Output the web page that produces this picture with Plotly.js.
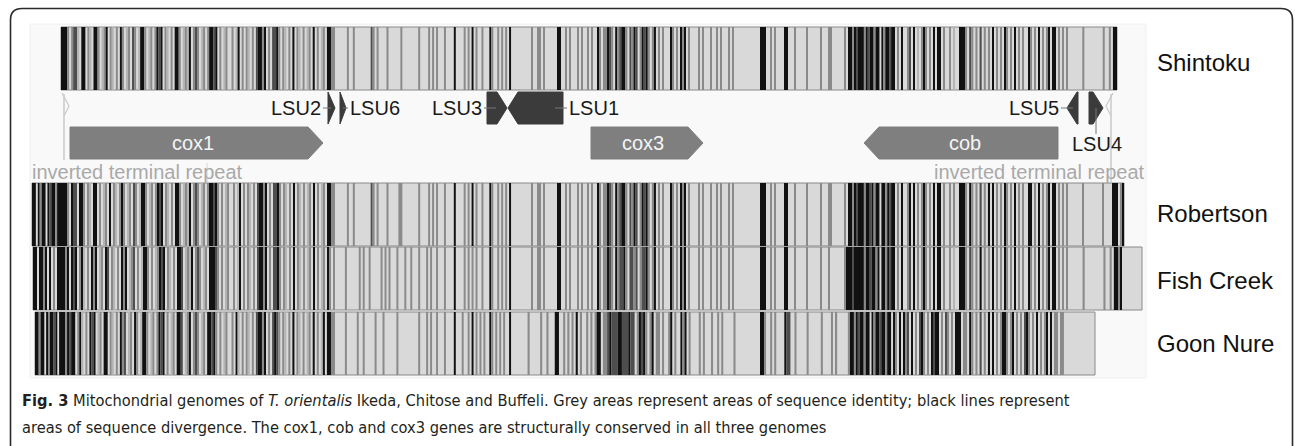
<!DOCTYPE html>
<html><head><meta charset="utf-8">
<script src="https://cdn.plot.ly/plotly-3.0.1.min.js"></script>
<style>html,body{margin:0;padding:0;background:#fff}#chart{width:1295px;height:446px}</style>
</head><body><div id="chart"></div>
<script>
// ---------- data ----------
const trackNames = ["Shintoku", "Robertson", "Fish Creek", "Goon Nure"];
const trackTop = [27, 183, 247, 312];
const trackBottom = [90, 246, 310, 375];
const trackLabelY = [62, 213, 280, 343];

// stripe codes: '.' identity (light), 'l' pale grey, 'g' grey, 'd' dark grey, 'k' divergence (black)
const shintokuEdges = [61, 333, 440, 515, 605, 660, 760, 830, 860, 895, 935, 965, 990, 1012, 1042, 1068, 1117];
const shintokuPatterns = [
  "kkkg.gddl.kk.gl.kkg.lgk.gl.g.kg.lg.dg.lkkg.lg.gkdk.gl.g.kkg.lglk.gdg.lg.gkkdk.g.lg..g.lk.g.gl.g.dkkgk.g.ddkg.gl.g.k.gl.g.lg.k.g.lg.kkg",
  "g......g..g........dg.g....g......g........g....g.g.g.",
  "..g....k....g.g.k.g..g...kg..g.g.g.k..",
  "........g..gg.g......kk..g.g...g.g..g.g..kg.g",
  "gkdg.kgdkkg.dgkd.gkdkg.gk.g",
  ".g...kg.g.kgk.g....g.g...g..g.g...g.g.............",
  "kkk..g.g....kk...g.....g......g...g",
  "g......g.kkgkdk",
  "kkgkdkkgkk.kgkkdkk",
  ".g.k..gd.k.l.gkg.g.k",
  ".kk.g..g.l..kkk",
  "g.dg.g.d.g.g",
  ".k.g.g.kg.g",
  ".k.g.g..kg.g.k.",
  "g.gk.kk.g.g.g",
  ".......g.........g..g.kk"
];

const robertsonEdges = [32, 61, 333, 440, 515, 605, 660, 760, 830, 860, 895, 935, 965, 990, 1012, 1042, 1068, 1124];
const robertsonPatterns = [
  "kk.kgkk.kdkkgkk",
  "kkkg.kdd.kkg.gl.kk.g.lg.k.gl.gkg.lg.dg.lkkg.lg.gkdk.gl.g.kkg.lglk.gdg.lg.gkkdkg.g.lg..g.lk.g.gl.g.dkkgk.g.ddkg.gl.g.k.gl.g.lg.k.g.lg.kkg",
  "g......g..g........dg.g....g.....gg........g....g.g.g.",
  "..g....k....g.g.k.g..g...kg..g.g.g.k..",
  "........g..gg.g......kk..g.g...g.g..g.g..kg.g",
  "gkdg.kgdkkg.dgkd.gkdkg.gk.g",
  ".g...kg.g.kgk.g....g.g...g..g.g...g.g.............",
  "kkk..g.g....kk...g.....g......g...g",
  "g......g.kkgkdk",
  "kkgkkdkgkk.kkgkdkk",
  ".g.k..gk.k.g.gkg.g.k",
  ".kk.g..g.g..kkk",
  "g.kg.g.d.g.k",
  ".k.g.g.kg.g",
  ".k.g.g..kk.g.k.",
  "g.gk.kk.g.g.g",
  ".......g.........g....kkk.gk"
];

const fishCreekEdges = [33, 61, 333, 440, 515, 605, 660, 760, 830, 860, 895, 935, 965, 990, 1012, 1042, 1068, 1118, 1142];
const fishCreekPatterns = [
  "kk.kkgk.k.g.kk",
  "kkgk.kdk.gkl.g.kgk.lg.kd.gl.g.kgk.lgd.g.lkkg.g.lgkdk.gl.g.kkd.lglk.gdg.lg.kkkdg.g.lg..g.lk.g.gl.g.dkkgk.g.ddkg.gl.g.k.gl.g.lg.k.g.lg.kg.",
  "g.....g......g.g..g.....g.g.g...g...g..g...g...g.g..g.",
  "..g....k....g.g.g.g..g...kg..g.g.g.k..",
  "........g..gg.g......kk..g.g...g.g..g.g..kg.g",
  "gkdg.kgddkg.ddgd.gddkg.gk.g",
  ".g...kg.g.kgk.g....g.g...g..g.g...g.g.............",
  "kkk..g.g....kk...g.....g......g...g",
  ".......gkkkdkkk",
  "kkgkkdkkgk.kkgkdkk",
  ".g.k..gd.k.g.gkg.g.k",
  ".kk.g..g.l..kkk",
  "g.dg.g.k.g.g",
  ".k.g.g.kg.g",
  ".k.g.g..kg.g.k.",
  "g.gk.kk.g.g.g",
  ".......g.........g..g.kk",
  "gk.........."
];

const goonNureEdges = [35, 61, 333, 440, 515, 605, 660, 760, 835, 850, 895, 935, 965, 990, 1012, 1040, 1062, 1095];
const goonNurePatterns = [
  "kkgkk.kgkkdk.k",
  "kkgkdkk.gkl.g.kdk.lg.kk.gl.g.kgd.lg.kg.lkkg.lg.gkdk.g.lg.kkd.lgk.gdg.lg.kkdkg.g.lg..g.kl.g.gl.g.dkkgk.g.dkdg.gl.g.k.gl.g.lg.k.g.lk.kkg",
  "g.....g.....g..g.....g...g......g..........g...g.g..g.",
  "..g....k...g..g.k.g.g.g..kg.g.g.g..k..",
  "......g.....g..g...kk..g.g.g.k.g..g.g.gkk.g",
  "gdkdddkkdddkdd.gkdkg.gk.gg",
  ".g..gk.g..kgk.g....g.g...g..g.g.....g............",
  "kkg..g.g....kdd..g.....g......g....g.",
  "g.....g",
  "kkgkdkkgkk.kgkkdkkgkk.k",
  "g.k.kgd.k.g.dkg.g.kd",
  "kk.g.dg.g.kkk.g",
  "g.kg.g.d.g.k",
  ".k.g.gkkg.g",
  "k.g.g.dkg.g.k.",
  "g.gk.k.gg.g",
  "g................"
];

const stripeColors = {l: "#b4b4b4", g: "#8a8a8a", d: "#4e4e4e", k: "#111111"};

// genes
const geneNames  = ["cox1", "cox3", "cob", "LSU2", "LSU6", "LSU3", "LSU1", "LSU5", "LSU4"];
const geneStart  = [70, 591, 864, 328, 340, 487, 508, 1067, 1089];
const geneEnd    = [323, 703, 1058, 335, 346, 507, 563, 1078, 1103];
const geneStrand = [1, 1, -1, 1, 1, 1, -1, -1, 1];
const geneKind   = ["cds", "cds", "cds", "rrna", "rrna", "rrna", "rrna", "rrna", "rrna"];
// rRNA label placement: label x, label y, anchor, leader x0,y0,x1,y1
const lsuLabelX   = [323, 348, 484, 567, 1061, 1097];
const lsuLabelY   = [108, 108, 108, 108, 108, 144];
const lsuAnchor   = ["right", "left", "right", "left", "right", "center"];
const lsuLeaderX0 = [323, 343, 484, 555, 1061, 1096];
const lsuLeaderX1 = [331, 348, 496, 567, 1073, 1096];
const lsuLeaderY0 = [108, 108, 108, 108, 108, 108];
const lsuLeaderY1 = [108, 108, 108, 108, 108, 134];

const itrText = "inverted terminal repeat";
const caption1 = "<b>Fig. 3</b> Mitochondrial genomes of <i>T. orientalis</i> Ikeda, Chitose and Buffeli. Grey areas represent areas of sequence identity; black lines represent";
const caption2 = "areas of sequence divergence. The cox1, cob and cox3 genes are structurally conserved in all three genomes";

// ---------- build ----------
const allEdges = [shintokuEdges, robertsonEdges, fishCreekEdges, goonNureEdges];
const allPatterns = [shintokuPatterns, robertsonPatterns, fishCreekPatterns, goonNurePatterns];

function stripeTrace(edges, patterns, top, bottom) {
  const x = [], w = [], c = [];
  for (let i = 0; i < patterns.length; i++) {
    const p = patterns[i], s = edges[i], e = edges[i + 1], cw = (e - s) / p.length;
    let j = 0;
    while (j < p.length) {
      const ch = p[j]; let k = j;
      while (k < p.length && p[k] === ch) k++;
      if (ch !== '.') { x.push(s + (j + k) / 2 * cw); w.push((k - j) * cw); c.push(stripeColors[ch]); }
      j = k;
    }
  }
  return {type: 'bar', x: x, y: x.map(() => bottom - top), base: top, width: w,
          marker: {color: c, line: {width: 0}}, hoverinfo: 'skip', showlegend: false};
}

const bgX = [], bgW = [], bgB = [], bgH = [];
for (let t = 0; t < 4; t++) {
  const e = allEdges[t], s = e[0], en = e[e.length - 1];
  bgX.push((s + en) / 2); bgW.push(en - s); bgB.push(trackTop[t]); bgH.push(trackBottom[t] - trackTop[t]);
}
const traces = [{type: 'bar', x: bgX, y: bgH, base: bgB, width: bgW,
  marker: {color: "#d9d9d9", line: {color: "#8a8a8a", width: 1}}, hoverinfo: 'skip', showlegend: false}];
for (let t = 0; t < 4; t++) traces.push(stripeTrace(allEdges[t], allPatterns[t], trackTop[t], trackBottom[t]));

const shapes = [];
// panel
shapes.push({type: 'rect', layer: 'below', x0: 30, x1: 1146, y0: 24, y1: 378, fillcolor: '#f9f9f9', line: {color: '#f0f0f0', width: 1}});
// frame
shapes.push({type: 'path', path: 'M 10.5 470 L 10.5 20 Q 10.5 8.5 22 8.5 L 1281 8.5 Q 1292.5 8.5 1292.5 20 L 1292.5 470', line: {color: '#2a2a2a', width: 1.6}});

const annotations = [];
const rows = {cds: [127, 159], rrna: [92, 124]};
const kindColor = {cds: "#7f7f7f", rrna: "#3b3b3b"};
const headLen = {cds: 15, rrna: 10};
let lsuIdx = 0;
for (let g = 0; g < geneNames.length; g++) {
  const kind = geneKind[g], top = rows[kind][0], bot = rows[kind][1], mid = (top + bot) / 2;
  const s = geneStart[g], e = geneEnd[g], h = Math.min(headLen[kind], e - s);
  let path;
  if (geneStrand[g] > 0) {
    path = (e - s <= h) ? `M ${s} ${top} L ${e} ${mid} L ${s} ${bot} Z`
      : `M ${s} ${top} L ${e - h} ${top} L ${e} ${mid} L ${e - h} ${bot} L ${s} ${bot} Z`;
  } else {
    path = (e - s <= h) ? `M ${e} ${top} L ${s} ${mid} L ${e} ${bot} Z`
      : `M ${e} ${top} L ${s + h} ${top} L ${s} ${mid} L ${s + h} ${bot} L ${e} ${bot} Z`;
  }
  shapes.push({type: 'path', path: path, fillcolor: kindColor[kind], line: {color: kindColor[kind], width: 1}});
  if (kind === 'cds') {
    annotations.push({x: (s + e) / 2 - geneStrand[g] * 4, y: mid, text: geneNames[g], showarrow: false,
      font: {family: 'Liberation Sans, Arial, sans-serif', size: 20, color: '#f4f4f4'}, xanchor: 'center', yanchor: 'middle'});
  } else {
    const i = lsuIdx++;
    shapes.push({type: 'line', x0: lsuLeaderX0[i], x1: lsuLeaderX1[i], y0: lsuLeaderY0[i], y1: lsuLeaderY1[i], line: {color: '#777', width: 1}});
    annotations.push({x: lsuLabelX[i], y: lsuLabelY[i], text: geneNames[g], showarrow: false,
      font: {family: 'Liberation Sans, Arial, sans-serif', size: 20, color: '#1a1a1a'}, xanchor: lsuAnchor[i], yanchor: 'middle'});
  }
}
// inverted terminal repeat markers
const itrCol = '#c9c9c9';
shapes.push({type: 'line', x0: 64, x1: 64, y0: 94, y1: 160, line: {color: itrCol, width: 1.5}});
shapes.push({type: 'path', path: 'M 62 93 L 69 106 L 64 116', line: {color: itrCol, width: 1.2}});
shapes.push({type: 'line', x0: 207, x1: 207, y0: 163, y1: 182, line: {color: '#d6d6d6', width: 1}});
shapes.push({type: 'line', x0: 1111, x1: 1111, y0: 94, y1: 182, line: {color: itrCol, width: 1.5}});
shapes.push({type: 'path', path: 'M 1113 93 L 1106 106 L 1111 116', line: {color: itrCol, width: 1.2}});
annotations.push({x: 30, y: 172, text: itrText, showarrow: false, xanchor: 'left', yanchor: 'middle',
  font: {family: 'Liberation Sans, Arial, sans-serif', size: 20, color: '#a9a9a9'}});
annotations.push({x: 932, y: 172, text: itrText, showarrow: false, xanchor: 'left', yanchor: 'middle',
  font: {family: 'Liberation Sans, Arial, sans-serif', size: 20, color: '#a9a9a9'}});

// track names
for (let t = 0; t < 4; t++) {
  annotations.push({x: 1155, y: trackLabelY[t], text: trackNames[t], showarrow: false, xanchor: 'left', yanchor: 'middle',
    font: {family: 'Liberation Sans, Arial, sans-serif', size: 24, color: '#111'}});
}
// caption
const capFont = {family: 'Liberation Sans Narrow, DejaVu Sans Condensed, Arial Narrow, sans-serif', size: 16.3, color: '#231f20'};
annotations.push({x: 20, y: 400, text: caption1, showarrow: false, xanchor: 'left', yanchor: 'middle', font: capFont});
annotations.push({x: 20, y: 427, text: caption2, showarrow: false, xanchor: 'left', yanchor: 'middle', font: capFont});

const layout = {
  width: 1295, height: 446, margin: {l: 0, r: 0, t: 0, b: 0},
  paper_bgcolor: '#ffffff', plot_bgcolor: '#ffffff', barmode: 'overlay', showlegend: false,
  xaxis: {range: [0, 1295], visible: false, fixedrange: true},
  yaxis: {range: [446, 0], visible: false, fixedrange: true},
  shapes: shapes, annotations: annotations
};
Plotly.newPlot('chart', traces, layout, {staticPlot: true, displayModeBar: false});
</script></body></html>
